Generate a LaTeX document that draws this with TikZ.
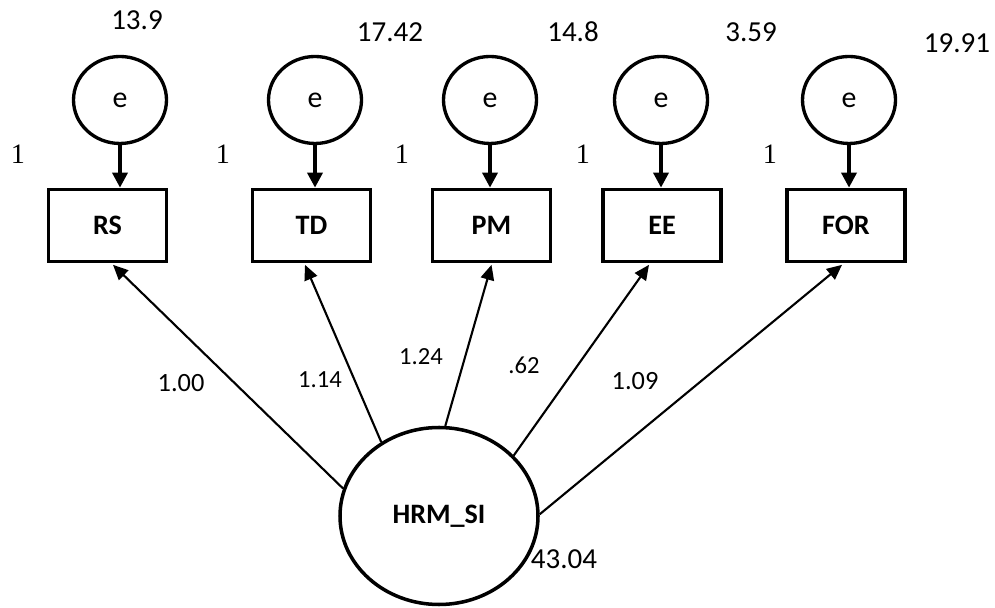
\documentclass[tikz,border=0pt]{standalone}
\usepackage{fontspec}
\setmainfont{Carlito}
\newfontfamily\serifone{Liberation Serif}
\usetikzlibrary{shapes.geometric,arrows.meta}

\begin{document}
\begin{tikzpicture}[
		errc/.style={draw,ellipse,line width=1.9pt,minimum width=1.86cm,minimum height=1.74cm,inner sep=0pt,font=\fontsize{17}{19}\selectfont},
		obs/.style={draw,rectangle,line width=2.1pt,minimum width=2.36cm,minimum height=1.44cm,font=\fontsize{16}{18}\selectfont\bfseries},
		lat/.style={draw,ellipse,line width=2pt,minimum width=3.96cm,minimum height=3.54cm,font=\fontsize{16}{18}\selectfont\bfseries},
		var/.style={font=\fontsize{16.5}{18}\selectfont},
		one/.style={font=\fontsize{16}{18}\selectfont\serifone},
		coef/.style={font=\fontsize{14}{16}\selectfont},
		errarr/.style={line width=2pt,-{Triangle[length=0.3cm,width=0.3cm]}},
		ldarr/.style={line width=1.2pt,-{Triangle[length=0.3cm,width=0.27cm]}}
	]
		\useasboundingbox (0,0) rectangle (19.9,12.16);
		%\node[options] (nodeName) at (x,y) {text};
		\node[errc] (eRS) at (2.40,10.16) {e};
		\node[errc] (eTD) at (6.30,10.16) {e};
		\node[errc] (ePM) at (9.80,10.16) {e};
		\node[errc] (eEE) at (13.22,10.16) {e};
		\node[errc] (eFOR) at (16.98,10.16) {e};
		\node[obs] (RS) at (2.15,7.65) {RS};
		\node[obs] (TD) at (6.23,7.65) {TD};
		\node[obs] (PM) at (9.83,7.65) {PM};
		\node[obs] (EE) at (13.24,7.65) {EE};
		\node[obs] (FOR) at (16.92,7.65) {FOR};
		\node[lat] (HRM) at (8.78,1.84) {HRM\_SI};
		%variances
		\node[var] (vRS) at (2.74,11.76) {13.9};
		\node[var] (vTD) at (7.80,11.52) {17.42};
		\node[var] (vPM) at (11.46,11.52) {14.8};
		\node[var] (vEE) at (15.02,11.52) {3.59};
		\node[var] (vFOR) at (19.14,11.30) {19.91};
		\node[var] (vHRM) at (11.28,0.98) {43.04};
		%fixed paths
		\node[one] (oRS) at (0.36,9.08) {1};
		\node[one] (oTD) at (4.46,9.08) {1};
		\node[one] (oPM) at (8.04,9.08) {1};
		\node[one] (oEE) at (11.66,9.08) {1};
		\node[one] (oFOR) at (15.40,9.08) {1};
		%loadings
		\node[coef,font=\fontsize{15}{17}\selectfont] (cRS) at (3.62,4.50) {1.00};
		\node[coef] (cTD) at (6.40,4.56) {1.14};
		\node[coef] (cPM) at (8.42,5.02) {1.24};
		\node[coef] (cEE) at (10.48,4.86) {.62};
		\node[coef,font=\fontsize{15}{17}\selectfont] (cFOR) at (12.70,4.54) {1.09};
		\draw[errarr] (eRS.south) -- (eRS.south |- RS.north);
		\draw[errarr] (eTD.south) -- (eTD.south |- TD.north);
		\draw[errarr] (ePM.south) -- (ePM.south |- PM.north);
		\draw[errarr] (eEE.south) -- (eEE.south |- EE.north);
		\draw[errarr] (eFOR.south) -- (eFOR.south |- FOR.north);
		\draw[ldarr] (HRM.164) -- ([xshift=0.11cm,yshift=-0.03cm]RS.south);
		\draw[ldarr] (HRM.128) -- ([xshift=-0.13cm,yshift=-0.03cm]TD.south);
		\draw[ldarr] (HRM.86) -- ([yshift=-0.03cm]PM.south);
		\draw[ldarr] (HRM.39) -- ([xshift=-0.26cm,yshift=-0.03cm]EE.south);
		\draw[ldarr] (HRM.1) -- ([xshift=-0.08cm,yshift=-0.03cm]FOR.south);
	\end{tikzpicture}
\end{document}
